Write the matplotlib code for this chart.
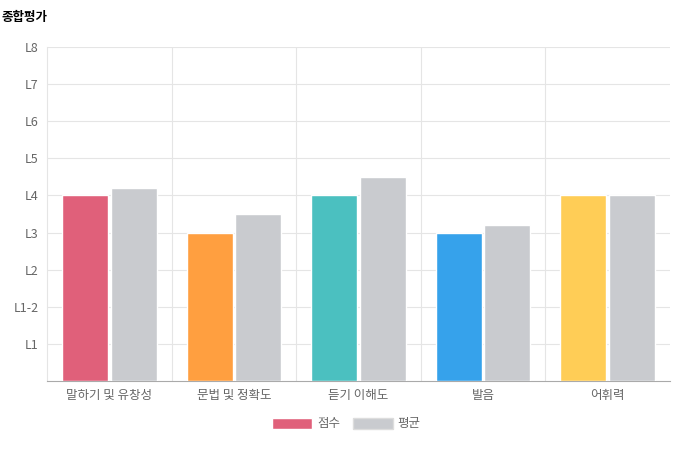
import matplotlib
matplotlib.use("Agg")
import matplotlib.pyplot as plt
from matplotlib.patches import Patch

plt.rcParams['font.family'] = ['Noto Sans CJK KR', 'DejaVu Sans']

categories = ['말하기 및 유창성', '문법 및 정확도', '듣기 이해도', '발음', '어휘력']
scores = [5, 4, 5, 4, 5]
averages = [5.2, 4.5, 5.5, 4.2, 5.0]
score_colors = ['#E0607A', '#FF9F40', '#4BC0C0', '#36A2EB', '#FFCD56']
avg_color = '#C9CBCF'
ytick_vals = [1, 2, 3, 4, 5, 6, 7, 8, 9]
ytick_labels = ['L1', 'L1-2', 'L2', 'L3', 'L4', 'L5', 'L6', 'L7', 'L8']

fig = plt.figure(figsize=(6.93, 4.70), dpi=100)
ax = fig.add_axes([47/693, 1-381/470, (670-47)/693, (381-47)/470])

x = list(range(len(categories)))
w = 0.37
ax.bar([i - 0.195 for i in x], scores, width=w, color=score_colors, edgecolor='white', linewidth=1, zorder=3)
ax.bar([i + 0.195 for i in x], averages, width=w, color=avg_color, edgecolor='white', linewidth=1, zorder=3)

ax.set_xlim(-0.5, len(categories) - 0.5)
ax.set_ylim(0, 9)
ax.set_yticks(ytick_vals)
ax.set_yticklabels(ytick_labels, fontsize=9, color='#666666')
ax.set_xticks(x)
ax.set_xticklabels(categories, fontsize=9, color='#666666')
ax.set_xticks([i + 0.5 for i in x[:-1]], minor=True)
ax.grid(axis='y', color='#e5e5e5', linewidth=0.8, zorder=0)
ax.grid(axis='x', which='minor', color='#e5e5e5', linewidth=0.8, zorder=0)
ax.tick_params(axis='both', length=0, pad=6)
ax.tick_params(axis='x', which='minor', length=0)
for s in ['top', 'right']:
    ax.spines[s].set_visible(False)
ax.spines['left'].set_color('#e5e5e5')
ax.spines['bottom'].set_color('#aaaaaa')

fig.text(2/693, 1-18/470, '종합평가', fontsize=9, fontweight='bold', va='center', ha='left')

handles = [Patch(facecolor=score_colors[0], edgecolor='white'), Patch(facecolor=avg_color, edgecolor='#dddddd')]
fig.legend(handles, ['점수', '평균'], loc='center', bbox_to_anchor=(0.5, 1-424/470), ncol=2,
           frameon=False, fontsize=9, handlelength=3.2, handleheight=1.0, columnspacing=1.0,
           handletextpad=0.4, labelcolor='#666666')

fig.savefig('out.png', dpi=100)
